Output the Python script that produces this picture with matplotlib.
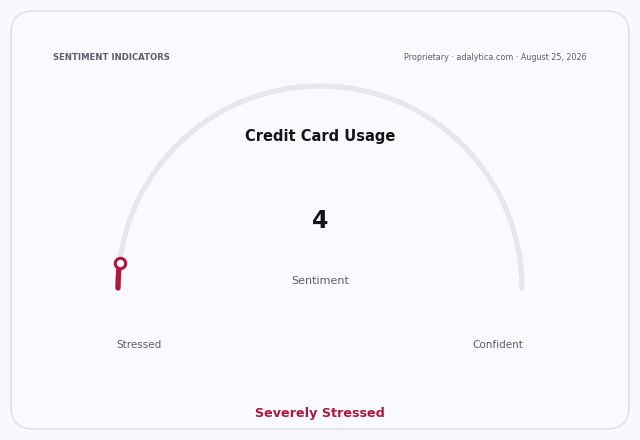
import numpy as np
import matplotlib
matplotlib.use("Agg")
import matplotlib.pyplot as plt
from matplotlib.patches import FancyBboxPatch

# gauge data
value = 4
vmin, vmax = 0, 100
title = "Credit Card Usage"
metric = "Sentiment"
low_label = "Stressed"
high_label = "Confident"
status = "Severely Stressed"
header_left = "SENTIMENT INDICATORS"
header_right = "Proprietary · adalytica.com · August 25, 2026"

bg = "#f9f9fd"
track = "#e6e6ec"
red = "#ad183f"
grey_txt = "#5c5c6c"

fig = plt.figure(figsize=(6.4, 4.4), dpi=100)
fig.patch.set_facecolor(bg)
ax = fig.add_axes([0, 0, 1, 1])
ax.set_xlim(0, 640)
ax.set_ylim(440, 0)
ax.axis("off")

card = FancyBboxPatch((11, 11), 618, 418, boxstyle="round,pad=0,rounding_size=22",
                      facecolor="#f9f9fe", edgecolor="#dcdce8", linewidth=1.0)
ax.add_patch(card)

cx, cy, r = 320, 288, 202

def ang(v):
    return np.pi * (1 - (v - vmin) / (vmax - vmin))

t = np.linspace(ang(vmin), ang(vmax), 300)
ax.plot(cx + r * np.cos(t), cy - r * np.sin(t), color=track, lw=3.8,
        solid_capstyle="round")

t2 = np.linspace(ang(vmin), ang(value), 30)
ax.plot(cx + r * np.cos(t2), cy - r * np.sin(t2), color=red, lw=3.8,
        solid_capstyle="round")
ax.plot(cx + r * np.cos(ang(value)), cy - r * np.sin(ang(value)), "o",
        ms=7.5, mfc="white", mec=red, mew=2.2)

ax.text(53, 58, header_left, fontsize=6.1, fontweight="bold", color=grey_txt,
        ha="left", va="center")
ax.text(587, 58, header_right, fontsize=5.75, color=grey_txt, ha="right", va="center")

ax.text(320, 137, title, fontsize=10.5, fontweight="bold", color="#141418",
        ha="center", va="center")
ax.text(320, 221, str(value), fontsize=17, fontweight="bold", color="#141418",
        ha="center", va="center")
ax.text(320, 281, metric, fontsize=8, color=grey_txt, ha="center", va="center")
ax.text(139, 345, low_label, fontsize=7.5, color=grey_txt, ha="center", va="center")
ax.text(498, 345, high_label, fontsize=7.5, color=grey_txt, ha="center", va="center")
ax.text(320, 414, status, fontsize=9.2, fontweight="bold", color=red,
        ha="center", va="center")

fig.savefig("out.png", dpi=100, facecolor=bg)
